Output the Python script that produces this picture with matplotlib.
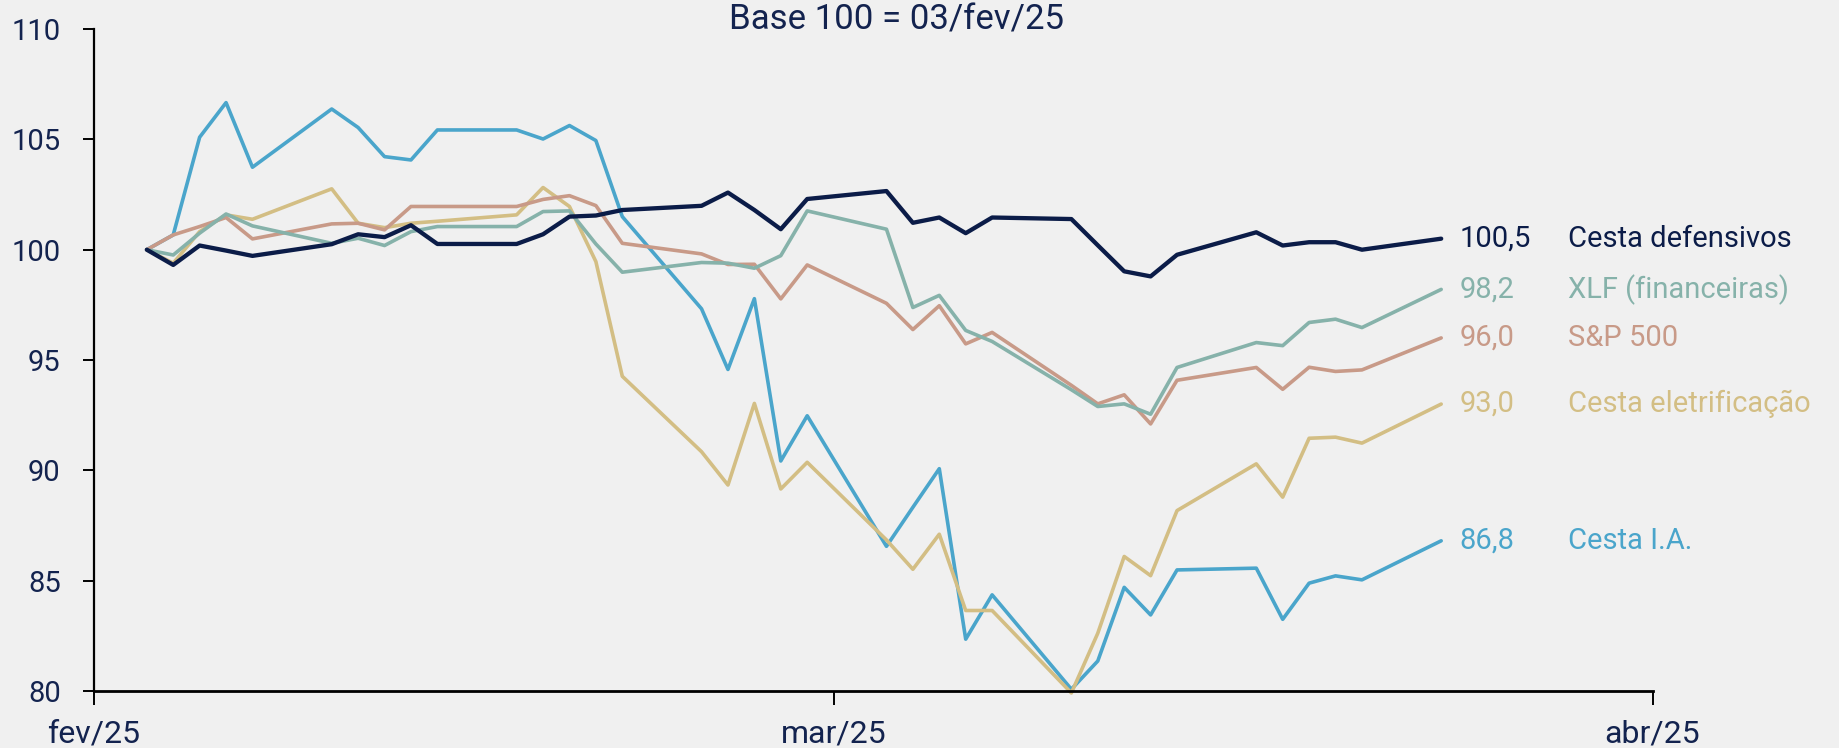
import matplotlib
matplotlib.use("Agg")
import matplotlib.pyplot as plt
import pandas as pd

plt.rcParams['font.family'] = ['Roboto', 'DejaVu Sans']

# dados (base 100 = 03/fev/25)
datas = ['2025-02-03', '2025-02-04', '2025-02-05', '2025-02-06', '2025-02-07',
         '2025-02-10', '2025-02-11', '2025-02-12', '2025-02-13', '2025-02-14',
         '2025-02-17', '2025-02-18', '2025-02-19', '2025-02-20', '2025-02-21',
         '2025-02-24', '2025-02-25', '2025-02-26', '2025-02-27', '2025-02-28',
         '2025-03-03', '2025-03-04', '2025-03-05', '2025-03-06', '2025-03-07',
         '2025-03-10', '2025-03-11', '2025-03-12', '2025-03-13', '2025-03-14',
         '2025-03-17', '2025-03-18', '2025-03-19', '2025-03-20', '2025-03-21',
         '2025-03-24']

cesta_ia = [100.0, 100.67, 105.10, 106.67, 103.74, 106.38, 105.54, 104.22, 104.07, 105.43,
            105.43, 105.02, 105.63, 104.95, 101.50, 97.32, 94.57, 97.78, 90.42, 92.47,
            86.55, 88.32, 90.07, 82.34, 84.35, 80.07, 81.35, 84.69, 83.44, 85.48,
            85.56, 83.24, 84.88, 85.21, 85.03, 86.8]

cesta_eletrificacao = [100.0, 99.39, 100.82, 101.58, 101.38, 102.76, 101.20, 101.00, 101.20, 101.29,
                       101.58, 102.82, 101.96, 99.46, 94.26, 90.84, 89.33, 93.03, 89.15, 90.36,
                       86.84, 85.51, 87.10, 83.64, 83.64, 79.9, 82.61, 86.09, 85.22, 88.17,
                       90.29, 88.78, 91.45, 91.50, 91.23, 93.0]

sp500 = [100.0, 100.67, 101.05, 101.46, 100.49, 101.17, 101.20, 100.90, 101.96, 101.96,
         101.96, 102.28, 102.45, 102.00, 100.29, 99.81, 99.33, 99.34, 97.77, 99.31,
         97.57, 96.38, 97.46, 95.73, 96.25, 93.85, 93.01, 93.42, 92.10, 94.08,
         94.66, 93.67, 94.67, 94.48, 94.55, 96.0]

xlf = [100.0, 99.76, 100.75, 101.62, 101.08, 100.29, 100.52, 100.19, 100.82, 101.05,
       101.05, 101.73, 101.76, 100.26, 98.98, 99.42, 99.39, 99.16, 99.73, 101.76,
       100.93, 97.38, 97.93, 96.34, 95.84, 93.65, 92.89, 93.01, 92.54, 94.66,
       95.79, 95.65, 96.70, 96.85, 96.47, 98.2]

cesta_defensivos = [100.0, 99.31, 100.19, 99.96, 99.72, 100.25, 100.70, 100.57, 101.11, 100.26,
                    100.26, 100.70, 101.50, 101.55, 101.80, 101.99, 102.59, 101.80, 100.93, 102.30,
                    102.66, 101.22, 101.46, 100.75, 101.46, 101.39, 100.20, 99.02, 98.79, 99.77,
                    100.79, 100.19, 100.34, 100.34, 100.00, 100.5]

nomes = ['Cesta I.A.', 'Cesta eletrificação', 'S&P 500', 'XLF (financeiras)', 'Cesta defensivos']
rotulos = ['86,8', '93,0', '96,0', '98,2', '100,5']
cores = ['#4aa5cb', '#d3be84', '#c89a88', '#86b2aa', '#0b1c48']
larguras = [2.6, 2.6, 2.6, 2.6, 3.1]

x = pd.to_datetime(datas)
series = [cesta_ia, cesta_eletrificacao, sp500, xlf, cesta_defensivos]

fundo = '#f0f0f0'
azul_texto = '#13234f'

fig = plt.figure(figsize=(18.39, 7.48), dpi=100, facecolor=fundo)
ax = fig.add_axes([0.0511, 0.0765, 0.8475, 0.8845])
ax.set_facecolor(fundo)

for serie, cor, lw, nome, rot in zip(series, cores, larguras, nomes, rotulos):
    ax.plot(x, serie, color=cor, lw=lw, clip_on=False, solid_capstyle='round')
    ax.annotate(rot, xy=(x[-1], serie[-1]), xytext=(13, 0), textcoords='offset points',
                color=cor, fontsize=21, va='center', ha='left', annotation_clip=False)
    ax.annotate(nome, xy=(x[-1], serie[-1]), xytext=(91, 0), textcoords='offset points',
                color=cor, fontsize=21, va='center', ha='left', annotation_clip=False)

ax.set_xlim(pd.Timestamp('2025-02-01'), pd.Timestamp('2025-04-01'))
ax.set_ylim(80, 110)
ax.set_yticks([80, 85, 90, 95, 100, 105, 110])
ax.set_xticks(pd.to_datetime(['2025-02-01', '2025-03-01', '2025-04-01']))
ax.set_xticklabels(['fev/25', 'mar/25', 'abr/25'])

for s in ['top', 'right']:
    ax.spines[s].set_visible(False)
ax.spines['left'].set_linewidth(1.6)
ax.spines['bottom'].set_linewidth(2.0)

ax.tick_params(axis='y', length=8, width=1.4, pad=16, labelsize=21, labelcolor=azul_texto)
ax.tick_params(axis='x', length=10, width=1.4, pad=11, labelsize=23, labelcolor=azul_texto)

fig.text(0.4877, 0.973, 'Base 100 = 03/fev/25', ha='center', va='center',
         fontsize=25, color=azul_texto)

fig.savefig('out.png', dpi=100, facecolor=fundo)
